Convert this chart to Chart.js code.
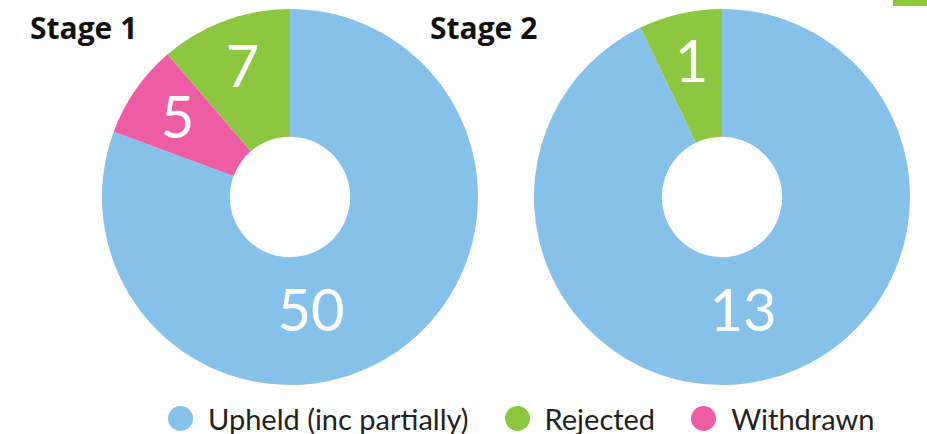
<!DOCTYPE html>
<html>
<head>
<meta charset="utf-8">
<script src="https://cdn.jsdelivr.net/npm/chart.js@4"></script>
<style>
  body { margin: 0; width: 927px; height: 434px; background: #fff; position: relative; overflow: hidden; font-family: Lato, sans-serif; }
  .title { position: absolute; top: 13px; line-height: 30px; font-family: "Open Sans", sans-serif; font-weight: bold; font-size: 30px; color: #111; }
  canvas { position: absolute; }
  #legend { position: absolute; top: 401px; left: 168px; display: flex; align-items: center; font-size: 29px; color: #222; }
  #legend span.dot { display: inline-block; width: 25px; height: 25px; border-radius: 50%; margin-right: 15px; }
  #legend span.item { display: flex; align-items: center; margin-right: 36px; }
  #corner { position: absolute; top: 0; left: 893px; width: 34px; height: 6px; background: #8DC63F; }
</style>
</head>
<body>
<div id="corner"></div>
<div class="title" style="left:30px">Stage 1</div>
<div class="title" style="left:430px">Stage 2</div>
<canvas id="stage1" width="376" height="376" style="left:102px; top:9px"></canvas>
<canvas id="stage2" width="376" height="376" style="left:534px; top:9px"></canvas>
<div id="legend"></div>
<script>
'use strict';
//--------------------DATA

// categories (draw order, clockwise from top)
let categories = ['Upheld (inc partially)', 'Withdrawn', 'Rejected'];
// legend order
let legendOrder = ['Upheld (inc partially)', 'Rejected', 'Withdrawn'];

let stage1Values = [50, 5, 7];
let stage2Values = [13, 0, 1];

let colours = ['#85C1E9', '#EE5DA3', '#8DC63F'];

//--------------------PLUGINS

// white numbers inside the slices
let sliceLabels = {
  id: 'sliceLabels',
  afterDatasetsDraw(chart) {
    let ctx = chart.ctx;
    let meta = chart.getDatasetMeta(0);
    let values = chart.data.datasets[0].data;
    ctx.save();
    ctx.fillStyle = '#fff';
    ctx.font = '400 58px Lato, sans-serif';
    ctx.textAlign = 'center';
    ctx.textBaseline = 'middle';
    meta.data.forEach(function (arc, i) {
      if (!values[i]) return;
      let p = arc.getProps(['x', 'y', 'startAngle', 'endAngle', 'innerRadius', 'outerRadius']);
      let angle = (p.startAngle + p.endAngle) / 2;
      let r = p.innerRadius + (p.outerRadius - p.innerRadius) * 0.6;
      // big slice: put the number near the bottom
      if (p.endAngle - p.startAngle > Math.PI) {
        angle = Math.PI / 2 - 0.18;
        r = p.innerRadius + (p.outerRadius - p.innerRadius) * 0.45;
      }
      ctx.fillText(values[i], p.x + Math.cos(angle) * r, p.y + Math.sin(angle) * r);
    });
    ctx.restore();
  }
};

//--------------------FUNCTIONS

function makeDoughnut(id, values) {
  return new Chart(document.getElementById(id), {
    type: 'doughnut',
    data: {
      labels: categories,
      datasets: [{
        data: values,
        backgroundColor: colours,
        borderWidth: 0,
      }],
    },
    options: {
      responsive: false,
      animation: false,
      cutout: '32%',
      layout: { padding: 0 },
      plugins: {
        legend: { display: false },
        tooltip: { enabled: false },
      },
    },
    plugins: [sliceLabels],
  });
}

function renderLegend() {
  let legend = document.getElementById('legend');
  for (let i = 0; i < legendOrder.length; i++) {
    let item = document.createElement('span');
    item.className = 'item';
    let dot = document.createElement('span');
    dot.className = 'dot';
    dot.style.background = colours[categories.indexOf(legendOrder[i])];
    item.appendChild(dot);
    item.appendChild(document.createTextNode(legendOrder[i]));
    legend.appendChild(item);
  }
}

//--------------------FUNCTION CALLS

makeDoughnut('stage1', stage1Values);
makeDoughnut('stage2', stage2Values);
renderLegend();
</script>
</body>
</html>
